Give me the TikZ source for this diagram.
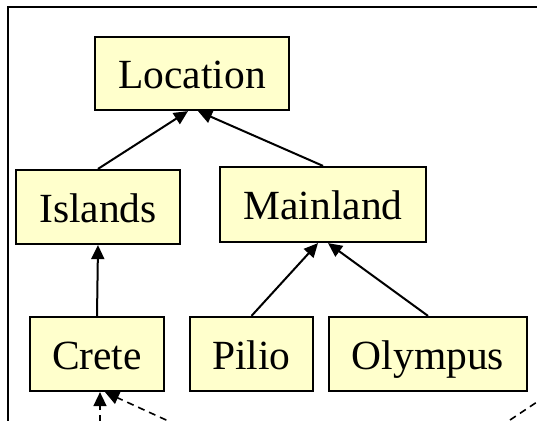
\documentclass[tikz,border=0pt]{standalone}
\usepackage{fontspec}
\setmainfont{Liberation Serif}
\usetikzlibrary{arrows.meta}
\definecolor{boxfill}{RGB}{255,255,204}
\begin{document}
\begin{tikzpicture}[x=1pt,y=-1pt,
  concept/.style={draw=black, line width=2.2pt, fill=boxfill, inner sep=0pt,
    minimum height=74pt, text height=32pt, text depth=2pt,
    font=\fontsize{41.5}{41.5}\selectfont},
  isa/.style={line width=2pt, -{Triangle[length=14pt,width=13pt]}},
  dep/.style={line width=1.6pt, dash pattern=on 7pt off 5pt,
    -{Triangle[length=14pt,width=13pt]}},
  plain dep/.style={line width=1.6pt, dash pattern=on 7pt off 5pt}]
\useasboundingbox (0,0) rectangle (537,420);
\clip (0,0) rectangle (537,420);

% surrounding frame
\draw[line width=2pt] (8,440) |- (560,7);

% concept hierarchy
\node[concept, minimum width=194pt, minimum height=73pt] (loc) at (192,73.5) {Location};
\node[concept, minimum width=164pt] (isl) at (98,207) {Islands};
\node[concept, minimum width=206pt, minimum height=75pt] (main) at (323,204.5) {Mainland};
\node[concept, minimum width=134pt] (crete) at (97,354) {Crete};
\node[concept, minimum width=123pt] (pilio) at (251.5,354) {Pilio};
\node[concept, minimum width=198pt] (oly) at (428,354) {Olympus};

\draw[isa] (isl.north) -- ([xshift=-4pt]loc.south);
\draw[isa] (main.north) -- ([xshift=6pt]loc.south);
\draw[isa] (crete.north) -- (isl.south);
\draw[isa] (pilio.north) -- ([xshift=-5pt]main.south);
\draw[isa] (oly.north) -- ([xshift=5pt]main.south);

% dashed links entering from below
\coordinate (d1) at (100,470);
\coordinate (d2) at (210,440);
\coordinate (d3a) at (480,440);
\coordinate (d3b) at (570,380);
\draw[dep] (d1) -- ([xshift=3pt]crete.south);
\draw[dep] (d2) -- ([xshift=8pt]crete.south);
\draw[plain dep] (d3a) -- (d3b);
\end{tikzpicture}
\end{document}
